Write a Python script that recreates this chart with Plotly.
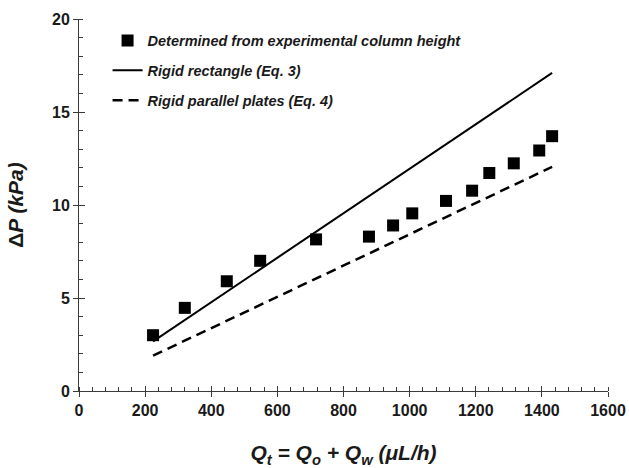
import plotly.graph_objects as go

# Measured pressure drop vs. total flow rate
flow_exp = [224, 320, 447, 548, 717, 877, 950, 1008, 1110, 1189, 1241, 1315, 1392, 1431]
dp_exp = [3.0, 4.47, 5.9, 7.0, 8.15, 8.3, 8.9, 9.55, 10.22, 10.77, 11.72, 12.24, 12.93, 13.7]

# Model predictions over the measured flow range
flow_model = [224, 1431]
dp_rect = [2.67, 17.1]
dp_plates = [1.9, 12.05]

x_ticks = [0, 200, 400, 600, 800, 1000, 1200, 1400, 1600]
y_ticks = [0, 5, 10, 15, 20]

FONT = "Liberation Sans, Arial, sans-serif"
AX = "#3a3a3a"

fig = go.Figure()
fig.add_trace(go.Scatter(
    x=flow_exp, y=dp_exp, mode="markers",
    name="Determined from experimental column height",
    marker=dict(symbol="square", size=12, color="black"),
    legendgroup="a",
))
fig.add_trace(go.Scatter(
    x=flow_model, y=dp_rect, mode="lines",
    name="Rigid rectangle (Eq. 3)",
    line=dict(color="black", width=2),
    legendgroup="b",
))
fig.add_trace(go.Scatter(
    x=flow_model, y=dp_plates, mode="lines",
    name="Rigid parallel plates (Eq. 4)",
    line=dict(color="black", width=2.5, dash="10px,6px"),
    legendgroup="c",
))
# helper trace so the inner-tick overlay axes get drawn
fig.add_trace(go.Scatter(x=[None], y=[None], xaxis="x2", yaxis="y2",
                         showlegend=False, hoverinfo="skip"))

tickfont = dict(family=FONT, size=16, color="#1a1a1a", weight="bold")
titlefont = dict(family=FONT, size=21, color="#1a1a1a", weight="bold")

fig.update_layout(
    width=629, height=468,
    margin=dict(l=79, r=21, t=19, b=77),
    paper_bgcolor="white", plot_bgcolor="white",
    showlegend=True,
    legend=dict(
        x=0.054, y=0.985, xanchor="left", yanchor="top",
        bgcolor="rgba(0,0,0,0)",
        font=dict(family=FONT, size=14.5, color="#1a1a1a", weight="bold", style="italic"),
        traceorder="grouped", tracegroupgap=8,
    ),
    xaxis=dict(
        range=[0, 1600], tickvals=x_ticks, showgrid=False, zeroline=False,
        automargin=False,
        showline=True, linecolor=AX, linewidth=1,
        ticks="outside", ticklen=5, tickcolor=AX, tickwidth=1,
        minor=dict(dtick=40, tick0=0, ticks="inside", ticklen=4, tickcolor=AX, showgrid=False),
        tickfont=tickfont,
        title=dict(text="<i>Q<sub>t</sub> = Q<sub>o</sub> + Q<sub>w</sub> (μL/h)</i>",
                   font=titlefont, standoff=27),
    ),
    yaxis=dict(
        range=[0, 20], tickvals=y_ticks, showgrid=False, zeroline=False,
        automargin=False,
        showline=True, linecolor=AX, linewidth=1,
        ticks="outside", ticklen=5, tickcolor=AX, tickwidth=1,
        minor=dict(dtick=1, tick0=0, ticks="inside", ticklen=4, tickcolor=AX, showgrid=False),
        tickfont=tickfont,
        title=dict(text="Δ<i>P (kPa)</i>", font=titlefont, standoff=22),
    ),
    xaxis2=dict(
        range=[0, 1600], overlaying="x", anchor="y2", tickvals=x_ticks,
        automargin=False,
        showticklabels=False, showgrid=False, zeroline=False, showline=False,
        ticks="inside", ticklen=5, tickcolor=AX,
    ),
    yaxis2=dict(
        range=[0, 20], overlaying="y", anchor="x2", tickvals=y_ticks,
        automargin=False,
        showticklabels=False, showgrid=False, zeroline=False, showline=False,
        ticks="inside", ticklen=6, tickcolor=AX,
    ),
)

fig.write_html("out.html")
